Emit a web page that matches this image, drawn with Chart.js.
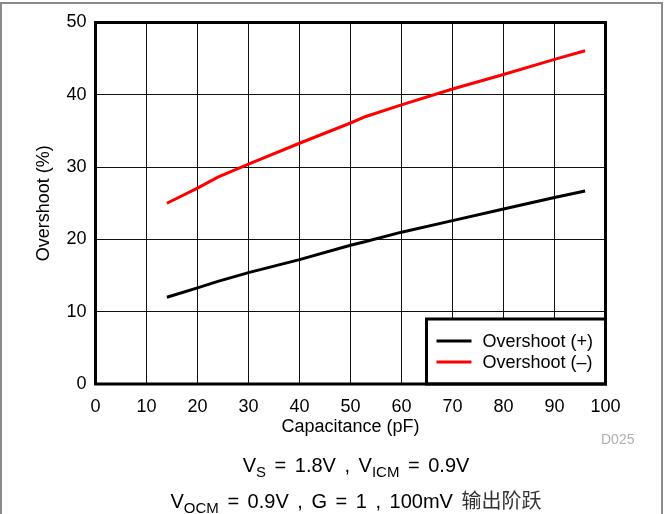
<!DOCTYPE html>
<html>
<head>
<meta charset="utf-8">
<script src="https://cdn.jsdelivr.net/npm/chart.js@4/dist/chart.umd.min.js"></script>
<style>
  html, body { margin: 0; padding: 0; background: #fff; }
  #wrap { position: relative; width: 666px; height: 514px; overflow: hidden; }
  #frame { position: absolute; left: 0; top: 2px; width: 663px; height: 530px;
           border: 2px solid #8a8a8a; box-sizing: border-box; }
  canvas { position: absolute; left: 0; top: 0; }
  .note { position: absolute; font-family: "Liberation Sans", Arial, sans-serif; color: #000;
          white-space: nowrap; line-height: 20px; }
  .cond { left: 46px; width: 620px; font-size: 20px; text-align: center; word-spacing: 3px; }
  .note .sub { font-size: 15px; position: relative; top: 5px; }
  .note .cjk { font-family: "Noto Sans CJK SC", sans-serif; color: #333; }
  #code { left: 601px; top: 429px; font-size: 14px; color: #b0b0b0; }
</style>
</head>
<body>
<div id="wrap">
  <div id="frame"></div>
  <canvas id="overshootChart" width="666" height="514"></canvas>
  <div id="code" class="note">D025</div>
  <div class="note cond" style="top:455px;">V<span class="sub">S</span> = 1.8V , V<span class="sub">ICM</span> = 0.9V</div>
  <div class="note cond" style="top:490px;">V<span class="sub">OCM</span> = 0.9V , G = 1 , 100mV <span class="cjk">输出阶跃</span></div>
</div>
<script>
// Load capacitance sweep (pF) and measured overshoot (%)
const capacitance = [14, 20, 24, 30, 40, 50, 53, 60, 70, 80, 90, 96];
const overshootPos = [12.0, 13.3, 14.2, 15.4, 17.2, 19.2, 19.7, 21.0, 22.6, 24.2, 25.8, 26.7];
const overshootNeg = [25.0, 27.1, 28.6, 30.4, 33.3, 36.1, 37.0, 38.6, 40.8, 42.8, 44.9, 46.1];
const seriesNames = ['Overshoot (+)', 'Overshoot (\u2013)'];
const seriesColors = ['#000000', '#ff0000'];

const xRange = { min: 0, max: 100, step: 10 };
const yRange = { min: 0, max: 50, step: 10 };

const FONT = '"Liberation Sans", Arial, sans-serif';

function toPoints(values) {
    return capacitance.map((c, i) => ({ x: c, y: values[i] }));
}

// Heavy black box around the plot area
const plotFrame = {
    id: 'plotFrame',
    afterDraw(chart) {
        const { ctx, chartArea: a } = chart;
        ctx.save();
        ctx.strokeStyle = '#000';
        ctx.lineWidth = 3;
        ctx.strokeRect(a.left, a.top, a.right - a.left, a.bottom - a.top);
        ctx.restore();
    }
};

// Boxed legend sitting in the lower right corner of the plot
const cornerLegend = {
    id: 'cornerLegend',
    afterDatasetsDraw(chart) {
        const { ctx, chartArea: a } = chart;
        const w = 179, h = 65;
        const x = a.right - w, y = a.bottom - h;
        ctx.save();
        ctx.fillStyle = '#fff';
        ctx.fillRect(x, y, w, h);
        ctx.strokeStyle = '#000';
        ctx.lineWidth = 3;
        ctx.strokeRect(x, y, w, h);
        ctx.font = '18px ' + FONT;
        ctx.textBaseline = 'middle';
        chart.data.datasets.forEach((ds, i) => {
            const ly = y + 22 + i * 21;
            ctx.strokeStyle = ds.borderColor;
            ctx.lineWidth = 3;
            ctx.beginPath();
            ctx.moveTo(x + 10, ly);
            ctx.lineTo(x + 45, ly);
            ctx.stroke();
            ctx.fillStyle = '#000';
            ctx.fillText(ds.label, x + 56, ly + 1);
        });
        ctx.restore();
    }
};

const ctx = document.getElementById('overshootChart').getContext('2d');
new Chart(ctx, {
    type: 'line',
    data: {
        datasets: [
            {
                label: seriesNames[0],
                data: toPoints(overshootPos),
                borderColor: seriesColors[0],
                borderWidth: 3,
                pointRadius: 0,
                tension: 0
            },
            {
                label: seriesNames[1],
                data: toPoints(overshootNeg),
                borderColor: seriesColors[1],
                borderWidth: 3,
                pointRadius: 0,
                tension: 0
            }
        ]
    },
    options: {
        responsive: false,
        animation: false,
        layout: { padding: { left: 0, right: 60.5, top: 22.5, bottom: 70 } },
        plugins: { legend: { display: false }, tooltip: { enabled: false } },
        scales: {
            x: {
                type: 'linear',
                min: xRange.min,
                max: xRange.max,
                afterFit(scale) { scale.height = 60; },
                border: { display: false },
                grid: { color: '#111', lineWidth: 1, drawTicks: false },
                ticks: { stepSize: xRange.step, color: '#000', padding: 12, font: { family: FONT, size: 18 } },
                title: {
                    display: true,
                    text: 'Capacitance (pF)',
                    color: '#000',
                    padding: { top: 0, bottom: 6 },
                    font: { family: FONT, size: 18 }
                }
            },
            y: {
                min: yRange.min,
                max: yRange.max,
                afterFit(scale) { scale.width = 95.5; },
                border: { display: false },
                grid: { color: '#111', lineWidth: 1, drawTicks: false },
                ticks: { stepSize: yRange.step, color: '#000', padding: 9, font: { family: FONT, size: 18 } },
                title: {
                    display: true,
                    text: 'Overshoot (%)',
                    color: '#000',
                    padding: { top: 33, bottom: 0 },
                    font: { family: FONT, size: 18 }
                }
            }
        }
    },
    plugins: [cornerLegend, plotFrame]
});
</script>
</body>
</html>
